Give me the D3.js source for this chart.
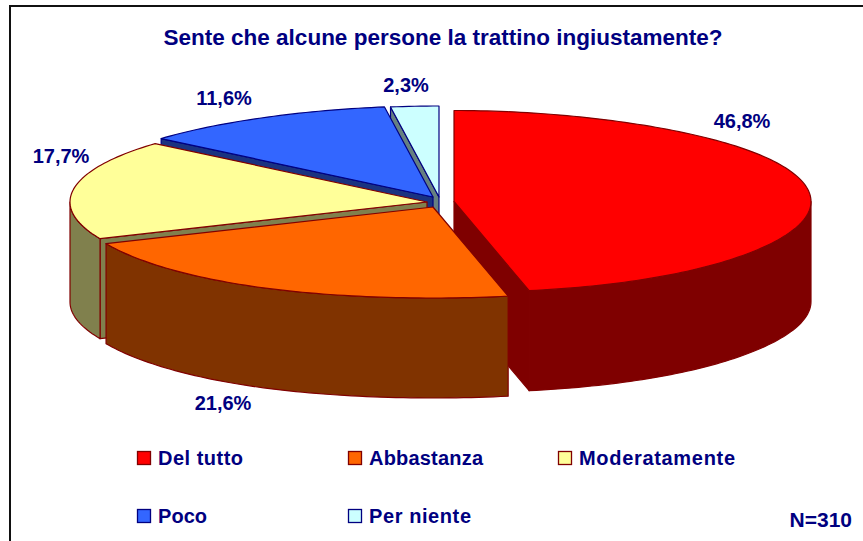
<!DOCTYPE html>
<html><head><meta charset="utf-8">
<script src="https://cdn.jsdelivr.net/npm/d3@7"></script>
<style>html,body{margin:0;padding:0;background:#fff}svg{display:block}text{font-family:"Liberation Sans",Arial,sans-serif;font-weight:bold;fill:#000080}</style>
</head><body><svg id="c" width="863" height="541"></svg>
<script>
const categories = ["Del tutto","Abbastanza","Moderatamente","Poco","Per niente"];
const values = [46.8,21.6,17.7,11.6,2.3];
const valueLabels = ["46,8%","21,6%","17,7%","11,6%","2,3%"];
const titleText = "Sente che alcune persone la trattino ingiustamente?";
const noteText = "N=310";

// styling and layout
const topColors = ["#FF0000","#FF6600","#FFFF99","#3366FF","#CCFFFF"];
const sideColors = ["#7F0000","#803300","#80804D","#1A3380","#668080"];
const strokeColors = ["#800000","#800000","#800000","#000080","#000080"];
const apexX = [454,433,427,433,439];
const apexY = [201.5,207,202,197,197];
const labelPos = [[742,128],[223,410],[61,163],[224,105],[406,92]];
const legendPos = [[137,451],[348,451],[558,451],[137,509],[348,509]];
const legendWidths = [85,114,156,49,102];
const rx = 357, ry = 91, depth = 100, perspective = 0.06;

const svg = d3.select("#c");
svg.append("path").attr("d","M10,541V6H863").attr("fill","none").attr("stroke","#111").attr("stroke-width",2);

const slices = d3.pie().sort(null).value(d=>d)(values);
const line = d3.line();
function pt(i,a,dz=0){
  const c=Math.cos(a), k=1-perspective*Math.pow(c,5);
  return [apexX[i]+rx*k*Math.sin(a), apexY[i]-ry*c+dz];
}
function arcPts(i,a0,a1,dz=0){
  const n=Math.max(2,Math.ceil(Math.abs(a1-a0)/0.02));
  return d3.range(n+1).map(k=>pt(i,a0+(a1-a0)*k/n,dz));
}
const apex=(i,dz=0)=>[apexX[i],apexY[i]+dz];
const order=[0,4,3,2,1];
const g=svg.append("g");
order.forEach(i=>{
  const s=slices[i], a0=s.startAngle, a1=s.endAngle;
  const draw=(pts,fill)=>g.append("path").attr("d",line(pts)+"Z").attr("fill",fill).attr("stroke",strokeColors[i]).attr("stroke-width",1.2).attr("stroke-linejoin","round");
  // radial faces that turn towards the viewer
  [[a1,Math.sin(a1)>1e-6],[a0,Math.sin(a0)<-1e-6]].forEach(([a,vis])=>{
    if(vis) draw([apex(i),pt(i,a),pt(i,a,depth),apex(i,depth)],sideColors[i]);
  });
  // outer rim, the part facing the viewer
  const lo=Math.max(a0,Math.PI/2), hi=Math.min(a1,Math.PI*1.5);
  if(hi>lo) draw(arcPts(i,lo,hi).concat(arcPts(i,hi,lo,depth)),sideColors[i]);
  // top face
  draw([apex(i)].concat(arcPts(i,a0,a1)),topColors[i]);
});

svg.append("text").attr("x",443).attr("y",45).attr("text-anchor","middle").attr("font-size",22.5).text(titleText);
valueLabels.forEach((t,i)=>svg.append("text").attr("x",labelPos[i][0]).attr("y",labelPos[i][1]).attr("text-anchor","middle").attr("font-size",20).text(t));
categories.forEach((c,i)=>{
  const [x,y]=legendPos[i];
  svg.append("rect").attr("x",x+.5).attr("y",y+.5).attr("width",13).attr("height",13).attr("fill",topColors[i]).attr("stroke",strokeColors[i]).attr("stroke-width",1.3);
  svg.append("text").attr("x",x+21).attr("y",y+14).attr("font-size",20).attr("textLength",legendWidths[i]).attr("lengthAdjust","spacing").text(c);
});
svg.append("text").attr("x",852).attr("y",527).attr("text-anchor","end").attr("font-size",21).text(noteText);
</script></body></html>
